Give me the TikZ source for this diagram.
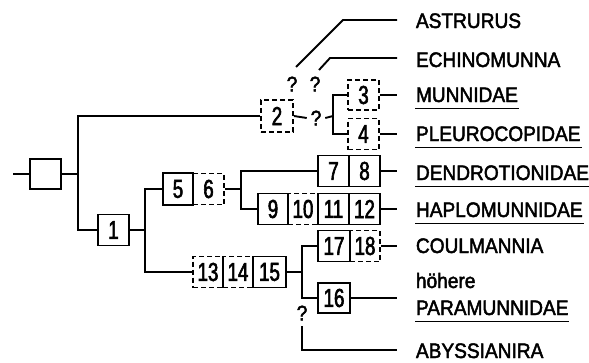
\documentclass[tikz,border=0pt]{standalone}
\usepackage{fontspec}
\setmainfont{Liberation Sans}[FakeStretch=0.91,FakeBold=2.2]
\newfontfamily\digf{Liberation Sans}[FakeStretch=0.72,FakeBold=2.2]
\newcommand\ulab[1]{\draw ([xshift=18pt,yshift=-6.5pt]#1.base west) -- ([xshift=-18pt,yshift=-6.5pt]#1.base east);}
\begin{document}
\begin{tikzpicture}[x=1pt,y=-1pt, line width=1.9pt,
  bx/.style={draw, minimum width=31pt, minimum height=31pt, inner sep=0pt, font=\digf\fontsize{26}{26}\selectfont},
  dbx/.style={bx, dash pattern=on 5pt off 3pt},
  lab/.style={anchor=base west, inner xsep=18pt, inner ysep=0pt, font=\fontsize{21}{22}\selectfont},
  qm/.style={inner xsep=3pt, inner ysep=1pt, font=\fontsize{21}{21}\selectfont}]
\useasboundingbox (0,0) rectangle (589,362);
% dashed boxes
\node[dbx, minimum width=32pt, minimum height=32pt] (b2) at (277,116) {2};
\node[dbx, minimum height=30pt] (b3) at (363.5,95) {3};
\node[dbx] (b4) at (363.5,134) {4};
\node[dbx] (b6) at (208.5,189) {6};
\node[dbx, minimum width=30pt] (b10) at (303,209) {10};
\node[dbx, minimum width=30pt] (b13) at (208,272) {13};
\node[dbx, minimum width=30pt] (b14) at (238,272) {14};
\node[dbx, minimum width=30pt] (b18) at (365,246) {18};
% solid boxes
\node[bx, minimum height=30pt] (root) at (45.5,174) {};
\node[bx] (b1) at (113.5,230) {1};
\node[bx, minimum width=30pt, minimum height=32pt] (b5) at (178,189) {5};
\node[bx] (b7) at (333.5,171) {7};
\node[bx] (b8) at (364.5,171) {8};
\node[bx, minimum width=30pt] (b9) at (273,209) {9};
\node[bx] (b11) at (333.5,209) {11};
\node[bx] (b12) at (364.5,209) {12};
\node[bx, minimum width=33pt] (b15) at (269.5,272) {15};
\node[bx, minimum width=32pt] (b17) at (334,246) {17};
\node[bx, minimum width=32pt, minimum height=30pt] (b16) at (334,298) {16};
% labels
\node[lab] (astr) at (397,28) {ASTRURUS};
\node[lab] (echi) at (397,67) {ECHINOMUNNA};
\node[lab] (munn) at (397,102) {MUNNIDAE};
\node[lab] (pleu) at (397,141) {PLEUROCOPIDAE};
\node[lab] (dend) at (397,180) {DENDROTIONIDAE};
\node[lab] (hapl) at (397,217) {HAPLOMUNNIDAE};
\node[lab] (coul) at (397,253) {COULMANNIA};
\node[lab] (hoeh) at (397,288) {höhere};
\node[lab] (para) at (397,315) {PARAMUNNIDAE};
\node[lab] (abys) at (397,358) {ABYSSIANIRA};
\ulab{munn}\ulab{pleu}\ulab{dend}\ulab{hapl}\ulab{para}
% question marks
\node[qm] (q1) at (292,84) {?};
\node[qm] (q2) at (315,84) {?};
\node[qm] (q3) at (316,118) {?};
\node[qm] (q4) at (302,313) {?};
% coordinates
\coordinate (start) at (13,174);
\coordinate (j0) at (78,174);
\coordinate (j1) at (145,230);
\coordinate (j2) at (241,189);
\coordinate (j3) at (302,272);
\coordinate (j4) at (333,116);
\coordinate (a0) at (296,67);
\coordinate (a1) at (343,20);
\coordinate (e0) at (319,70);
\coordinate (e1) at (330,58);
\coordinate (k0) at (302,326);
\coordinate (k1) at (302,350);
% connectors
\draw (start) -- (root.west);
\draw (root.east) -- (j0);
\draw (b2.west) -| (j0);
\draw (b1.west) -| (j0);
\draw (b1.east) -- (j1);
\draw (b5.west) -| (j1);
\draw (b13.west) -| (j1);
\draw (b6.east) -- (j2);
\draw (b7.west) -| (j2);
\draw (b9.west) -| (j2);
\draw (b15.east) -- (j3);
\draw (b17.west) -| (j3);
\draw (b16.west) -| (j3);
\draw (b2.east) -- (q3.west);
\draw (q3.east) -- (j4);
\draw (b3.west) -| (j4);
\draw (b4.west) -| (j4);
\draw (a0) -- (a1) -- (a1 -| astr.west);
\draw (e0) -- (e1) -- (e1 -| echi.west);
\draw (b3.east) -- (b3.east -| munn.west);
\draw (b4.east) -- (b4.east -| pleu.west);
\draw (b8.east) -- (b8.east -| dend.west);
\draw (b12.east) -- (b12.east -| hapl.west);
\draw (b18.east) -- (b18.east -| coul.west);
\draw (b16.east) -- (b16.east -| para.west);
\draw (k0) -- (k1) -- (k1 -| abys.west);
\end{tikzpicture}
\end{document}
